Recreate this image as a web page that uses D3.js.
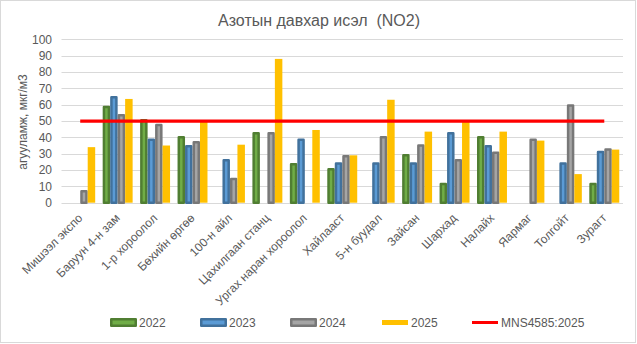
<!DOCTYPE html>
<html><head><meta charset="utf-8">
<script src="https://cdn.jsdelivr.net/npm/d3@7"></script>
<style>body{margin:0;background:#fff;}svg{display:block;font-family:"Liberation Sans",Arial,sans-serif;}</style>
</head><body>
<svg id="c" width="637" height="344"></svg>
<script>
const categories = ["Мишээл экспо","Баруун 4-н зам","1-р хороолол","Бөхийн өргөө","100-н айл","Цахилгаан станц","Ургах наран хороолол","Хайлааст","5-н буудал","Зайсан","Шархад","Налайх","Яармаг","Толгойт","Зурагт"];
const seriesNames = ["2022","2023","2024","2025"];
const v2022 = [null,58.5,50.5,40,null,42.5,23.5,20.5,null,29,11.5,40,null,null,11.5];
const v2023 = [null,64.5,38.5,34.5,26,null,38.5,24,24,24,42.5,34.5,null,24,31];
const v2024 = [7,53.5,47.5,37,14.5,42.5,null,28.5,40,35,26,30.5,38.5,59.5,32.5];
const v2025 = [34,63.5,35,50,35.5,88,44.5,29,63,43.5,49.5,43.5,38,17.5,32.5];
const standardName = "MNS4585:2025";
const standardValue = 50;
const yTicks = [0,10,20,30,40,50,60,70,80,90,100];
const title = "Азотын давхар исэл  (NO2)";
const yTitle = "агууламж, мкг/м3";

const seriesValues = [v2022, v2023, v2024, v2025];
const fills = ["#70AD47","#5B9BD5","#A5A5A5","#FFC000"];
const strokes = ["#507E32","#41719C","#787878",null];
const sw = 2.5;

const svg = d3.select("#c");
svg.append("rect").attr("x",0.5).attr("y",0.5).attr("width",635).attr("height",342)
  .attr("fill","#fff").attr("stroke","#D9D9D9");

const left = 61.5, right = 623;
const x = d3.scaleBand().domain(categories).range([left,right]).paddingInner(0.2).paddingOuter(0.1);
const xs = d3.scaleBand().domain(seriesNames).range([0,x.bandwidth()]);
const y = d3.scaleLinear().domain([0,100]).range([202.7,39.3]);

// gridlines
svg.append("g").selectAll("line").data(yTicks).join("line")
  .attr("x1",left).attr("x2",right).attr("y1",d=>Math.round(y(d))+0.5).attr("y2",d=>Math.round(y(d))+0.5)
  .attr("stroke","#D9D9D9").attr("stroke-width",1);

// y axis labels
const yAxis = d3.axisLeft(y).tickValues(yTicks).tickSize(0).tickPadding(0);
const ga = svg.append("g").attr("transform",`translate(52,0)`).call(yAxis);
ga.select(".domain").remove();
ga.selectAll("text").attr("font-size",12).attr("fill","#595959").attr("font-family","Liberation Sans, Arial, sans-serif");

// bars
seriesNames.forEach((s,i)=>{
  const vals = seriesValues[i];
  const g = svg.append("g");
  categories.forEach((c,j)=>{
    const v = vals[j];
    if (v==null) return;
    const x0 = x(c)+xs(s);
    const w = xs.bandwidth();
    if (strokes[i]) {
      g.append("rect").attr("x",x0+sw/2).attr("y",y(v))
        .attr("width",w-sw).attr("height",y(0)-y(v))
        .attr("fill",fills[i]).attr("stroke",strokes[i]).attr("stroke-width",sw)
        .attr("stroke-linejoin","round");
    } else {
      g.append("rect").attr("x",x0).attr("y",y(v))
        .attr("width",w).attr("height",y(0)-y(v)).attr("fill",fills[i]);
    }
  });
});

// standard line
const line = d3.line().x(d=>x(d)+x.bandwidth()/2).y(()=>y(standardValue));
svg.append("path").attr("d",line([categories[0],categories[categories.length-1]]))
  .attr("stroke","#FF0000").attr("stroke-width",3.25).attr("fill","none");

// x labels
const xAxis = d3.axisBottom(x).tickSize(0).tickPadding(0);
const gx = svg.append("g").attr("transform",`translate(0,${y(0)})`).call(xAxis);
gx.select(".domain").remove();
gx.selectAll("text")
  .attr("font-size",12).attr("fill","#595959").attr("font-family","Liberation Sans, Arial, sans-serif")
  .attr("text-anchor","end").attr("dy",null).attr("y",0).attr("x",0)
  .attr("transform","translate(3,16) rotate(-45)");

// title
svg.append("text").attr("x",319).attr("y",26).attr("text-anchor","middle")
  .attr("font-size",16).attr("fill","#595959").attr("xml:space","preserve").text(title);

// y title
svg.append("text").attr("transform","translate(27,122) rotate(-90)").attr("text-anchor","middle")
  .attr("font-size",12).attr("fill","#595959").text(yTitle);

// legend
const legX = [110,200,290,382];
seriesNames.forEach((s,i)=>{
  const g = svg.append("g").attr("transform",`translate(${legX[i]},322.5)`);
  if (strokes[i]) {
    g.append("rect").attr("x",sw/2).attr("y",-4.5+sw/2).attr("width",27-sw).attr("height",9-sw)
      .attr("fill",fills[i]).attr("stroke",strokes[i]).attr("stroke-width",sw).attr("stroke-linejoin","round");
  } else {
    g.append("rect").attr("x",0).attr("y",-2.5).attr("width",26).attr("height",5).attr("fill",fills[i]);
  }
  g.append("text").attr("x",29).attr("y",4.3).attr("font-size",12).attr("fill","#595959").text(s);
});
const gl = svg.append("g").attr("transform","translate(472,322.5)");
gl.append("line").attr("x1",0).attr("x2",26).attr("stroke","#FF0000").attr("stroke-width",3);
gl.append("text").attr("x",29).attr("y",4.3).attr("font-size",12).attr("fill","#595959").text(standardName);
</script>
</body></html>
